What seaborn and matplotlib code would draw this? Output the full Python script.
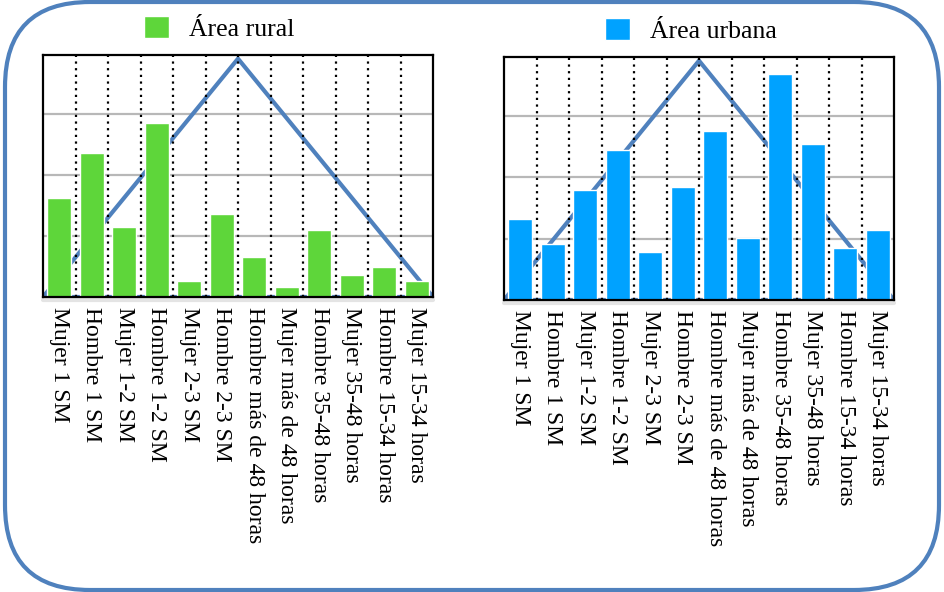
import matplotlib
matplotlib.use("Agg")
import matplotlib.pyplot as plt
from matplotlib.patches import FancyBboxPatch
from matplotlib.transforms import IdentityTransform
import seaborn as sns
import pandas as pd

# Categories shared by both panels
categories = [
    "Mujer 1 SM", "Hombre 1 SM", "Mujer 1-2 SM", "Hombre 1-2 SM",
    "Mujer 2-3 SM", "Hombre 2-3 SM", "Hombre más de 48 horas",
    "Mujer más de 48 horas", "Hombre 35-48 horas", "Mujer 35-48 horas",
    "Hombre 15-34 horas", "Mujer 15-34 horas",
]

# Bar heights (in grid-line units)
rural = [1.62, 2.36, 1.14, 2.85, 0.26, 1.36, 0.65, 0.17, 1.09, 0.36, 0.49, 0.26]
urbana = [1.32, 0.92, 1.79, 2.45, 0.79, 1.84, 2.76, 1.01, 3.68, 2.55, 0.84, 1.14]

# Triangular reference outline (closed)
trend_x = [-0.5, 5.5, 11.5, -0.5]
trend_y = [0.0, 3.9, 0.0, 0.0]

series_labels = ["Área rural", "Área urbana"]

GREEN = "#5ED63A"
BLUE = "#00A2FF"
OUTLINE = "#4F81BD"

sns.set_theme(style="white")
plt.rcParams["font.family"] = ["Liberation Serif", "DejaVu Serif"]
plt.rcParams["text.color"] = "black"
plt.rcParams["xtick.color"] = "black"
plt.rcParams["xtick.labelcolor"] = "black"

W, H = 944, 592
fig = plt.figure(figsize=(W / 100, H / 100), dpi=100)
fig.patch.set_facecolor("white")


def panel(rect_px, values, color, label, legend_px):
    x0, y0, x1, y1 = rect_px
    ax = fig.add_axes([x0 / W, 1 - y1 / H, (x1 - x0) / W, (y1 - y0) / H])
    df = pd.DataFrame({"categoria": categories, "valor": values})
    sns.barplot(data=df, x="categoria", y="valor", color=color, saturation=1,
                width=0.74, ax=ax, label=label, zorder=3)
    n = len(categories)
    # triangle outline behind the bars
    ax.plot(trend_x, trend_y, color=OUTLINE, lw=3, zorder=2,
            solid_joinstyle="miter")
    # dotted separators between categories
    for b in range(n - 1):
        ax.axvline(b + 0.5, color="black", lw=1.6, linestyle=(0, (1, 2)),
                   dash_capstyle="butt", zorder=2.5)
    ax.set_xlim(-0.5, n - 0.5)
    ax.set_ylim(0, 3.96)
    ax.set_yticks([1, 2, 3])
    ax.grid(axis="y", color="#b8b8b8", lw=1.6)
    ax.grid(axis="x", visible=False)
    ax.set_axisbelow(True)
    ax.tick_params(axis="y", length=0, labelleft=False)
    ax.tick_params(axis="x", length=0, pad=7, colors="black")
    ax.set_xticks(range(n))
    ax.set_xticklabels(categories, rotation=-90, ha="center", va="top",
                       fontsize=17, color="black")
    ax.set_xlabel("")
    ax.set_ylabel("")
    for s in ax.spines.values():
        s.set_visible(True)
        s.set_color("black")
        s.set_linewidth(1.6)
        s.set_zorder(5)
    # soft shadow under the bottom edge
    ax.plot([0, 1], [-0.011, -0.011], transform=ax.transAxes, clip_on=False,
            color="#d2d2d2", lw=3, alpha=0.6, zorder=1)
    lx, ly = legend_px
    leg = ax.legend(loc="upper left", bbox_to_anchor=(lx / W, 1 - ly / H),
                    bbox_transform=fig.transFigure, frameon=False,
                    fontsize=18.5, handlelength=0.97, handleheight=0.97,
                    handletextpad=0.8, borderpad=0, borderaxespad=0)
    for t in leg.get_texts():
        t.set_color("black")
    return ax


panel((43, 55, 433, 297), rural, GREEN, series_labels[0], (144, 16))
panel((504, 57, 894, 300), urbana, BLUE, series_labels[1], (605, 18))

# rounded outer frame
frame = FancyBboxPatch((5, 2), 934, 588,
                       boxstyle="round,pad=0,rounding_size=85",
                       transform=IdentityTransform(), fill=False,
                       ec=OUTLINE, lw=3)
fig.add_artist(frame)

fig.savefig("out.png", dpi=100)
